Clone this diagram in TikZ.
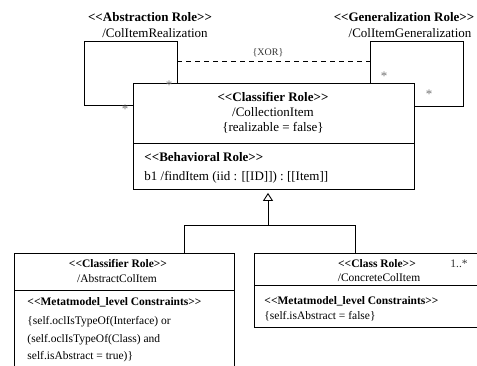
\documentclass[tikz,border=0pt]{standalone}
\usepackage{fontspec}
\setmainfont{Liberation Serif}[Ligatures=TeXOff]
\usetikzlibrary{arrows.meta}
\begin{document}
\begin{tikzpicture}[x=1pt,y=-1pt,
  line width=0.9pt,
  big/.style={font=\fontsize{13}{15}\selectfont, inner sep=0pt, anchor=base},
  bigb/.style={big, font=\fontsize{13}{15}\selectfont\bfseries},
  small/.style={font=\fontsize{11.5}{13}\selectfont, inner sep=0pt, anchor=base},
  smallb/.style={small, font=\fontsize{11.5}{13}\selectfont\bfseries},
  mult/.style={font=\fontsize{13}{15}\selectfont, text=black!55, inner sep=0pt, anchor=base},
  note/.style={font=\fontsize{10}{12}\selectfont, text=black!80, inner sep=0pt, anchor=base},
  classbox/.style={draw, fill=white, inner sep=0pt, anchor=north west},
  assoc/.style={draw},
  xorline/.style={dash pattern=on 5pt off 4pt},
  inherit/.style={-{Triangle[open,length=8pt,width=10pt]}, shorten >=3pt},
]
\clip (0,0) rectangle (477,365);

% central classifier role
\node[classbox, minimum width=281pt, minimum height=106pt] (ci) at (133,83) {};
\draw ([yshift=-60pt]ci.north west) -- ([yshift=-60pt]ci.north east);
\node[bigb] (ciT) at (273,101.5) {<<Classifier Role>>};
\node[big] (ciN) at (273,116.5) {/CollectionItem};
\node[big] (ciC) at (273,131.5) {\{realizable = false\}};
\node[bigb, anchor=base west] (ciB) at (144,161.5) {<<Behavioral Role>>};
\node[big, anchor=base west] (ciO) at (144,180.5) {b1 /findItem (iid : [[ID]]) : [[Item]]};

% abstraction role: self association on the left
\coordinate (ra1) at (177,41);
\coordinate (ra2) at (84,41);
\coordinate (ra3) at (84,105);
\draw[assoc] (ra1 |- ci.north) -- (ra1) -- (ra2) -- (ra3) -- (ra3 -| ci.west);
\node[bigb] (raT) at (150,21.5) {<<Abstraction Role>>};
\node[big] (raN) at (155,37.5) {/ColItemRealization};
\node[mult] (raM1) at (169,89) {*};
\node[mult] (raM2) at (125,113) {*};

% generalization role: self association on the right
\coordinate (rg1) at (370,41);
\coordinate (rg2) at (463,41);
\coordinate (rg3) at (463,106);
\draw[assoc] (rg1 |- ci.north) -- (rg1) -- (rg2) -- (rg3) -- (rg3 -| ci.east);
\node[bigb] (rgT) at (404,21.5) {<<Generalization Role>>};
\node[big] (rgN) at (410,37.5) {/ColItemGeneralization};
\node[mult] (rgM1) at (384,80) {*};
\node[mult] (rgM2) at (429,98) {*};

% xor constraint between the two associations
\coordinate (x1) at (177,61);
\coordinate (x2) at (370,61);
\draw[xorline] (x1) -- (x2);
\node[note] (xor) at (268,55.5) {\{XOR\}};

% abstract subclass
\node[classbox, minimum width=220pt, minimum height=140pt] (ab) at (14,253) {};
\draw ([yshift=-37pt]ab.north west) -- ([yshift=-37pt]ab.north east);
\node[smallb] (abT) at (118,267) {<<Classifier Role>>};
\node[small] (abN) at (117,282) {/AbstractColItem};
\node[smallb, anchor=base west] (abH) at (27,305) {<<Metatmodel\_level Constraints>>};
\node[small, anchor=base west] (abL1) at (27,324) {\{self.oclIsTypeOf(Interface) or};
\node[small, anchor=base west] (abL2) at (27,342) {(self.oclIsTypeOf(Class) and};
\node[small, anchor=base west] (abL3) at (27,359) {self.isAbstract = true)\}};

% concrete subclass
\node[classbox, minimum width=240pt, minimum height=74pt] (cc) at (254,253) {};
\draw ([yshift=-32pt]cc.north west) -- ([yshift=-32pt]cc.north east);
\node[smallb] (ccT) at (377,267) {<<Class Role>>};
\node[small] (ccN) at (379,281) {/ConcreteColItem};
\node[small, text=black!80] (ccM) at (459,267) {1..*};
\node[smallb, anchor=base west] (ccH) at (264,304) {<<Metatmodel\_level Constraints>>};
\node[small, anchor=base west] (ccL1) at (264,319) {\{self.isAbstract = false\}};

% generalization tree
\coordinate (j) at (268,225);
\coordinate (g1) at (184,225);
\coordinate (g2) at (355,225);
\draw (g1 |- ab.north) -- (g1) -- (g2) -- (g2 |- cc.north);
\draw[inherit] (j) -- (j |- ci.south);
\end{tikzpicture}
\end{document}
